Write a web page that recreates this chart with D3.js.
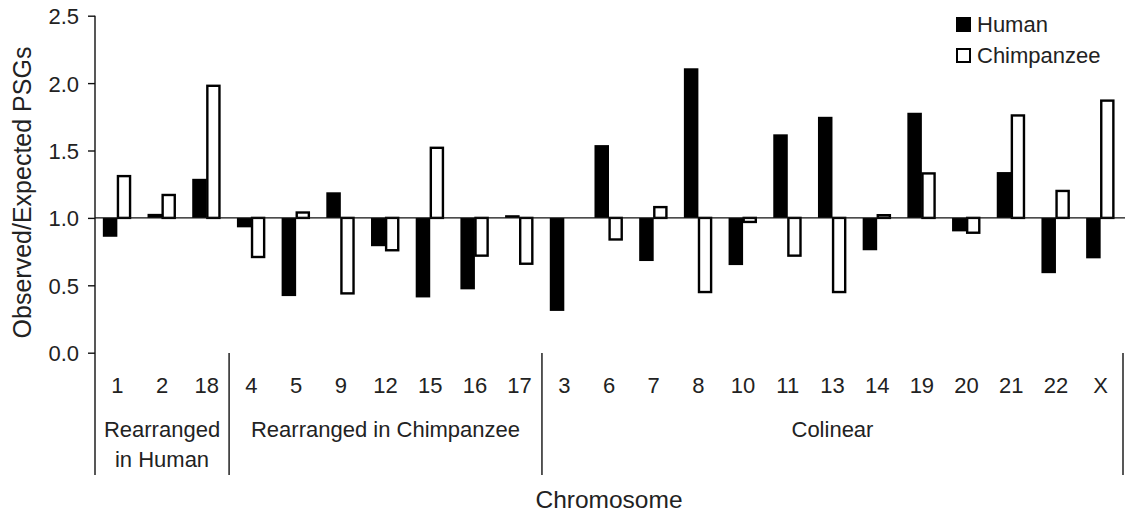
<!DOCTYPE html>
<html>
<head>
<meta charset="utf-8">
<script src="https://cdn.jsdelivr.net/npm/d3@7"></script>
<style>
  html, body { margin: 0; padding: 0; background: #fff; }
  svg text { font-family: "Liberation Sans", Arial, sans-serif; fill: #222; }
</style>
</head>
<body>
<svg id="chart" width="1130" height="512"></svg>
<script>
const chromosomes = ["1","2","18","4","5","9","12","15","16","17","3","6","7","8","10","11","13","14","19","20","21","22","X"];
const humanValues = [0.86,1.03,1.29,0.93,0.42,1.19,0.79,0.41,0.47,1.02,0.31,1.54,0.68,2.11,0.65,1.62,1.75,0.76,1.78,0.90,1.34,0.59,0.70];
const chimpValues = [1.31,1.17,1.98,0.71,1.04,0.44,0.76,1.52,0.72,0.66,1.00,0.84,1.08,0.45,0.97,0.72,0.45,1.02,1.33,0.89,1.76,1.20,1.87];
const seriesNames = ["Human","Chimpanzee"];
const groupLabels = [["Rearranged","in Human"],["Rearranged in Chimpanzee"],["Colinear"]];
const groupSizes = [3,7,13];
const yTicks = [0.0,0.5,1.0,1.5,2.0,2.5];
const baselineValue = 1.0;

const svg = d3.select("#chart");
svg.append("rect").attr("width",1130).attr("height",512).attr("fill","#fff");

const x = d3.scaleBand().domain(chromosomes).range([95,1123]).paddingInner(0).paddingOuter(0);
const x1 = d3.scaleBand().domain(seriesNames).range([0,x.bandwidth()]).paddingInner(0).paddingOuter(0.54);
const y = d3.scaleLinear().domain([0,2.5]).range([352.7,15.7]);

// y axis
const yAxis = d3.axisLeft(y).tickValues(yTicks).tickFormat(d3.format(".1f")).tickSize(7).tickPadding(9);
const gy = svg.append("g").attr("transform","translate(95,0)").call(yAxis);
gy.select(".domain").remove();
gy.selectAll(".tick line").attr("stroke","#111").attr("stroke-width",1.4);
gy.selectAll(".tick text").style("font-size","22px").attr("fill","#222").attr("dy","0.36em");
svg.append("line").attr("x1",95).attr("x2",95).attr("y1",y(2.5)).attr("y2",475)
  .attr("stroke","#111").attr("stroke-width",1.4);

// bars
const rows = chromosomes.map((c,i)=>({c, Human: humanValues[i], Chimpanzee: chimpValues[i]}));
const g = svg.append("g");
g.selectAll("rect.human").data(rows).join("rect").attr("class","human")
  .attr("x",d=>x(d.c)+x1("Human"))
  .attr("width",x1.bandwidth())
  .attr("y",d=>Math.min(y(d.Human),y(baselineValue)))
  .attr("height",d=>Math.abs(y(d.Human)-y(baselineValue)))
  .attr("fill","#000");
g.selectAll("rect.chimp").data(rows).join("rect").attr("class","chimp")
  .attr("x",d=>x(d.c)+x1("Chimpanzee")+0.6)
  .attr("width",x1.bandwidth()-2.4)
  .attr("y",d=>Math.min(y(d.Chimpanzee),y(baselineValue)))
  .attr("height",d=>Math.abs(y(d.Chimpanzee)-y(baselineValue)))
  .attr("fill","#fff").attr("stroke","#000").attr("stroke-width",2.4);

// baseline at 1.0
svg.append("line").attr("x1",95).attr("x2",1125).attr("y1",y(baselineValue)).attr("y2",y(baselineValue))
  .attr("stroke","#111").attr("stroke-width",1.2);

// category labels
svg.selectAll("text.cat").data(chromosomes).join("text").attr("class","cat")
  .attr("x",d=>x(d)+x.bandwidth()/2).attr("y",393)
  .attr("text-anchor","middle").style("font-size","22px").text(d=>d);

// group separators and labels
let idx = 0;
const bounds = [0];
groupSizes.forEach(s=>{ idx += s; bounds.push(idx); });
bounds.slice(1).forEach((b,i)=>{
  const xb = x.range()[0] + b*x.step();
  svg.append("line").attr("x1",xb).attr("x2",xb).attr("y1",353).attr("y2",475)
    .attr("stroke","#111").attr("stroke-width",1.4);
});
groupLabels.forEach((lines,i)=>{
  const x0 = x.range()[0] + bounds[i]*x.step();
  const xEnd = x.range()[0] + bounds[i+1]*x.step();
  const t = svg.append("text").attr("text-anchor","middle").style("font-size","22px");
  lines.forEach((ln,j)=>{
    t.append("tspan").attr("x",(x0+xEnd)/2).attr("y",437+j*30).text(ln);
  });
});

// axis titles
svg.append("text").attr("x",609).attr("y",508).attr("text-anchor","middle")
  .style("font-size","24.5px").text("Chromosome");
svg.append("text").attr("transform","translate(31,192.5) rotate(-90)")
  .attr("text-anchor","middle").style("font-size","25px").text("Observed/Expected PSGs");

// legend
const leg = svg.append("g").attr("transform","translate(956,17)");
seriesNames.forEach((s,i)=>{
  const gg = leg.append("g").attr("transform",`translate(0,${i*31})`);
  if (s==="Human") {
    gg.append("rect").attr("width",15).attr("height",15).attr("fill","#000");
  } else {
    gg.append("rect").attr("x",1).attr("y",1).attr("width",13).attr("height",13)
      .attr("fill","#fff").attr("stroke","#000").attr("stroke-width",2);
  }
  gg.append("text").attr("x",21).attr("y",15).style("font-size","22px").text(s);
});
</script>
</body>
</html>
